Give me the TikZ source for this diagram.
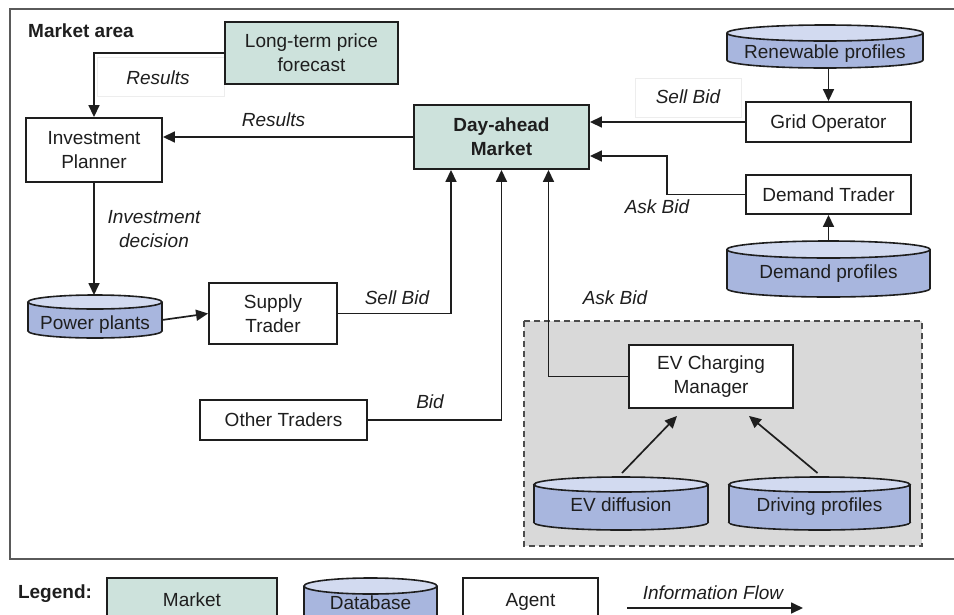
\documentclass[tikz,border=0pt]{standalone}
\usepackage{fontspec}
\setmainfont{Liberation Sans}
\usetikzlibrary{arrows.meta,calc}
\definecolor{mkt}{RGB}{205,226,220}
\definecolor{dbbody}{RGB}{168,182,222}
\definecolor{dbtop}{RGB}{210,218,240}
\definecolor{evbg}{RGB}{217,217,217}
\definecolor{ink}{RGB}{30,30,30}
\definecolor{framec}{RGB}{90,90,90}
\newcommand\myfs{\fontsize{19}{24}\selectfont}
\tikzset{
  every node/.style={font=\myfs, text=ink},
  oneline/.style={text height=13.6pt, text depth=0pt},
  agent/.style={draw=ink, line width=1.9pt, fill=white, inner sep=0pt, align=center},
  market/.style={agent, fill=mkt},
  lbl/.style={font=\myfs\itshape, inner sep=0pt, align=center},
  faint/.style={draw=black!7, line width=0.8pt, inner sep=0pt},
  arr/.style={draw=ink, line width=1.7pt, -{Triangle[length=12pt,width=11pt]}},
  dbline/.style={draw=ink, line width=1.6pt},
}
% #1 name, #2 x left, #3 y top, #4 x right, #5 y bottom, #6 ellipse y radius, #7 text y, #8 text
\newcommand\cyl[8]{%
  \pgfmathsetmacro\cylCX{(#2+#4)/2}%
  \pgfmathsetmacro\cylCY{(#3+#5)/2+#6/2}%
  \pgfmathsetmacro\cylTY{#3+#6}%
  \pgfmathsetmacro\cylBY{#5-#6}%
  \pgfmathsetmacro\cylRX{(#4-#2)/2}%
  \filldraw[dbline, fill=dbbody] (\cylCX,\cylBY) ellipse [x radius=\cylRX pt, y radius=#6pt];
  \fill[dbbody] (#2,\cylTY) rectangle (#4,\cylBY);
  \draw[dbline] (#2,\cylTY) -- (#2,\cylBY) (#4,\cylTY) -- (#4,\cylBY);
  \filldraw[dbline, fill=dbtop] (\cylCX,\cylTY) ellipse [x radius=\cylRX pt, y radius=#6pt];
  \coordinate (#1top) at (\cylCX,#3);
  \coordinate (#1bot) at (\cylCX,#5);
  \coordinate (#1right) at (#4,\cylCY);
  \node[oneline, inner sep=0pt] (#1) at (\cylCX,#7) {#8};
}
\begin{document}
\begin{tikzpicture}[x=1pt, y=-1pt]
\useasboundingbox (0,0) rectangle (954,614);
% frame
\draw[framec, line width=1.6pt] (10,9) rectangle (962,559);
\node[font=\myfs\bfseries, oneline, anchor=west, inner sep=0pt] (title) at (28,31) {Market area};
% EV area
\draw[fill=evbg, draw=black!70, line width=1.3pt, dash pattern=on 6pt off 4pt] (524,321) rectangle (922,546);

% label boxes
\node[faint, minimum width=127pt, minimum height=39pt] (resbox) at (160.5,76.5) {};
\node[lbl, oneline] (res1) at (158,78) {Results};
\node[faint, minimum width=106pt, minimum height=39pt] (sellbox) at (688,97.5) {};
\node[lbl, oneline] (sell1) at (688,97) {Sell Bid};

% agents and markets
\node[market, minimum width=173pt, minimum height=62pt] (ltpf) at (311.5,53) {Long-term price\\forecast};
\node[agent, minimum width=136pt, minimum height=64pt] (ip) at (94,150) {Investment\\Planner};
\node[market, minimum width=175pt, minimum height=64pt, font=\myfs\bfseries] (dam) at (501.5,137) {Day-ahead\\Market};
\node[agent, oneline, minimum width=165pt, minimum height=40pt] (go) at (828.5,122) {Grid Operator};
\node[agent, oneline, minimum width=165pt, minimum height=39pt] (dt) at (828.5,194.5) {Demand Trader};
\node[agent, minimum width=128pt, minimum height=61pt] (st) at (273,313.5) {Supply\\Trader};
\node[agent, oneline, minimum width=167pt, minimum height=40pt] (ot) at (283.5,420) {Other Traders};
\node[agent, minimum width=164pt, minimum height=63pt] (evcm) at (711,376.5) {EV Charging\\Manager};

% databases
\cyl{rp}{727}{25}{923}{68}{8}{52}{Renewable profiles}
\cyl{dp}{727}{241}{930}{297}{8.5}{272}{Demand profiles}
\cyl{pp}{28}{295}{162}{338}{7}{323}{Power plants}
\cyl{evd}{534}{477}{708}{530}{7.5}{505}{EV diffusion}
\cyl{drp}{729}{477}{910}{530}{7.5}{505}{Driving profiles}

% connectors
\draw[arr] (ltpf.west) -| (ip.north);
\draw[arr] (dam.west) -- (dam.west -| ip.east);
\draw[arr] (rpbot -| go.north) -- (go.north);
\draw[arr] (go.west) -- (go.west -| dam.east);
\draw[arr] (dt.west) -- ++(-78pt,0pt) |- ([yshift=-19pt]dam.east);
\draw[arr] (dptop -| dt.south) -- (dt.south);
\draw[arr] (ip.south) -- (ip.south |- pptop);
\draw[arr] (ppright) -- (st.west);
\draw[arr] (st.east) -| ([xshift=-50.5pt]dam.south);
\draw[arr] (ot.east) -| (dam.south);
\draw[arr] (evcm.west) -| ([xshift=47pt]dam.south);
\draw[arr] ([xshift=1pt,yshift=4pt]evdtop) -- ([xshift=-34pt,yshift=-7pt]evcm.south);
\draw[arr] ([xshift=-2pt,yshift=4pt]drptop) -- ([xshift=38pt,yshift=-7pt]evcm.south);

% flow labels
\node[lbl, oneline] (res2) at (273.5,120) {Results};
\node[lbl, oneline] (ask1) at (657,207) {Ask Bid};
\node[lbl] (invdec) at (154,229) {Investment\\decision};
\node[lbl, oneline] (sell2) at (397,298) {Sell Bid};
\node[lbl, oneline] (bid) at (430,402) {Bid};
\node[lbl, oneline] (ask2) at (615,298) {Ask Bid};

% legend
\node[font=\myfs\bfseries, oneline, inner sep=0pt] (legend) at (55,592) {Legend:};
\node[market, oneline, minimum width=170pt, minimum height=44pt] (lgmkt) at (192,600) {Market};
\cyl{lgdb}{304}{578}{437}{630}{8}{603}{Database}
\node[agent, oneline, minimum width=135pt, minimum height=44pt] (lgag) at (530.5,600) {Agent};
\node[lbl, oneline] (lgflow) at (713,593) {Information Flow};
\coordinate (lgfa) at (627,608);
\coordinate (lgfb) at (803,608);
\draw[arr] (lgfa) -- (lgfb);
\end{tikzpicture}
\end{document}
